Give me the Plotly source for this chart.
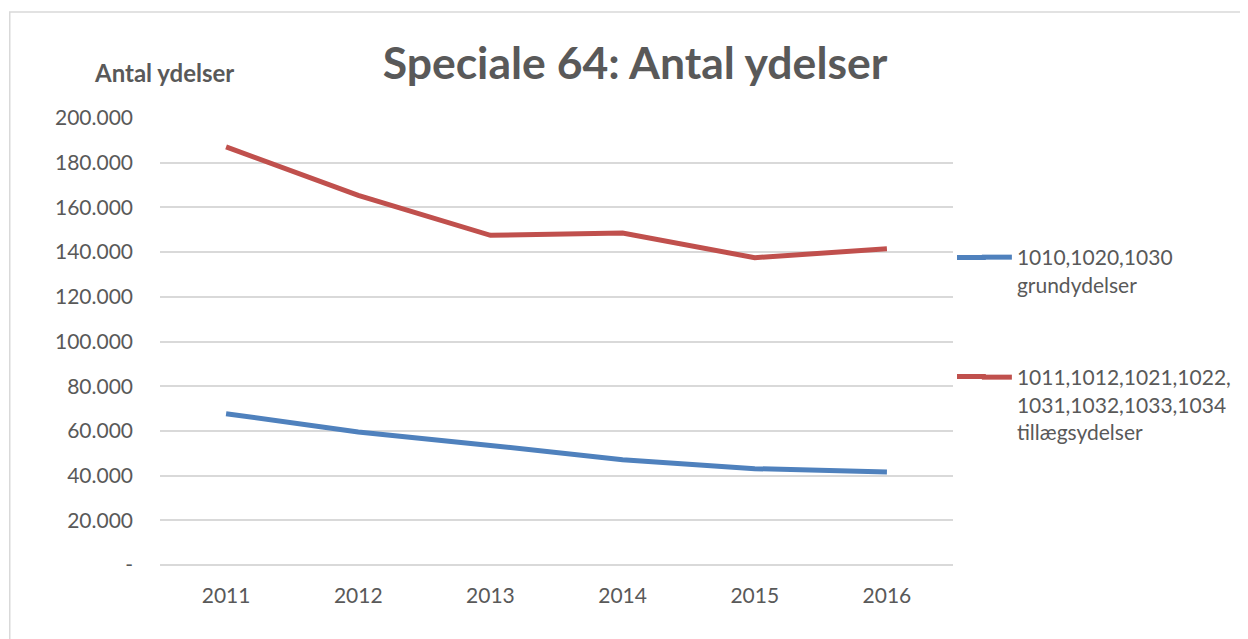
import plotly.graph_objects as go

years = ["2011", "2012", "2013", "2014", "2015", "2016"]
grund = [67700, 59500, 53500, 47100, 43100, 41600]
tillaeg = [187100, 165400, 147500, 148500, 137500, 141500]
series_names = ["1010,1020,1030<br>grundydelser",
                "1011,1012,1021,1022,<br>1031,1032,1033,1034<br>tillægsydelser"]
ytick_vals = [0, 20000, 40000, 60000, 80000, 100000, 120000, 140000, 160000, 180000, 200000]
ytick_text = ["-", "20.000", "40.000", "60.000", "80.000", "100.000", "120.000",
              "140.000", "160.000", "180.000", "200.000"]

FONT = "Lato"
GRAY = "#595959"
GRID = "#D9D9D9"
BLUE = "#4F81BD"
RED = "#C0504D"

fig = go.Figure()
fig.add_trace(go.Scatter(x=years, y=grund, mode="lines", name=series_names[0],
                         line=dict(color=BLUE, width=5), legend="legend"))
fig.add_trace(go.Scatter(x=years, y=tillaeg, mode="lines", name=series_names[1],
                         line=dict(color=RED, width=5), legend="legend2"))

OFF = 8  # page body margin
W, H = 1248 - OFF, 639 - OFF
L, T = 160 - OFF, 118 - OFF
pw, ph = 797, 447
R = W - L - pw
B = H - T - ph


def px(xp):
    return (xp - OFF - L) / pw


def py(yp):
    return (H - B - (yp - OFF)) / ph


legend_common = dict(font=dict(family=FONT, size=21, color=GRAY), bgcolor="rgba(0,0,0,0)",
                     xanchor="left", yanchor="top", valign="top", borderwidth=0)

fig.update_layout(
    width=W, height=H,
    margin=dict(l=L, r=R, t=T, b=B),
    paper_bgcolor="white", plot_bgcolor="white",
    font=dict(family=FONT, color=GRAY),
    title=dict(text="<b>Speciale 64: Antal ydelser</b>", x=(635 - OFF) / W, xanchor="center",
               y=1 - (63 - OFF) / H, yanchor="middle", xref="container", yref="container",
               font=dict(family=FONT, size=44.5, color=GRAY)),
    legend=dict(x=px(981), y=py(237), **legend_common),
    legend2=dict(x=px(981), y=py(357), **legend_common),
    showlegend=True,
)
fig.update_xaxes(type="category", range=[-0.5, 5.5], showgrid=False, showline=False,
                 ticks="", tickfont=dict(family=FONT, size=21, color=GRAY),
                 ticklabelstandoff=16)
fig.update_yaxes(range=[0, 200000], tickvals=ytick_vals, ticktext=ytick_text,
                 showgrid=True, gridcolor=GRID, gridwidth=1.5,
                 zeroline=True, zerolinecolor=GRID, zerolinewidth=1.5,
                 showline=False, ticks="", tickfont=dict(family=FONT, size=21, color=GRAY),
                 ticklabelstandoff=26)

fig.add_annotation(text="<b>Antal ydelser</b>", xref="paper", yref="paper",
                   x=px(164), y=py(72), xanchor="center", yanchor="middle",
                   showarrow=False, font=dict(family=FONT, size=24, color=GRAY))

# lengthen the legend line keys (Excel-style long keys)
for col, yk in ((BLUE, 257.5), (RED, 376.5)):
    fig.add_shape(type="line", xref="paper", yref="paper",
                  x0=px(961), x1=px(990), y0=py(yk), y1=py(yk),
                  line=dict(color=col, width=5))

fig.add_shape(type="rect", xref="paper", yref="paper",
              x0=px(9), x1=px(1262), y0=py(655), y1=py(12),
              line=dict(color=GRID, width=1.5), fillcolor="rgba(0,0,0,0)", layer="below")

fig.write_html("out.html")
